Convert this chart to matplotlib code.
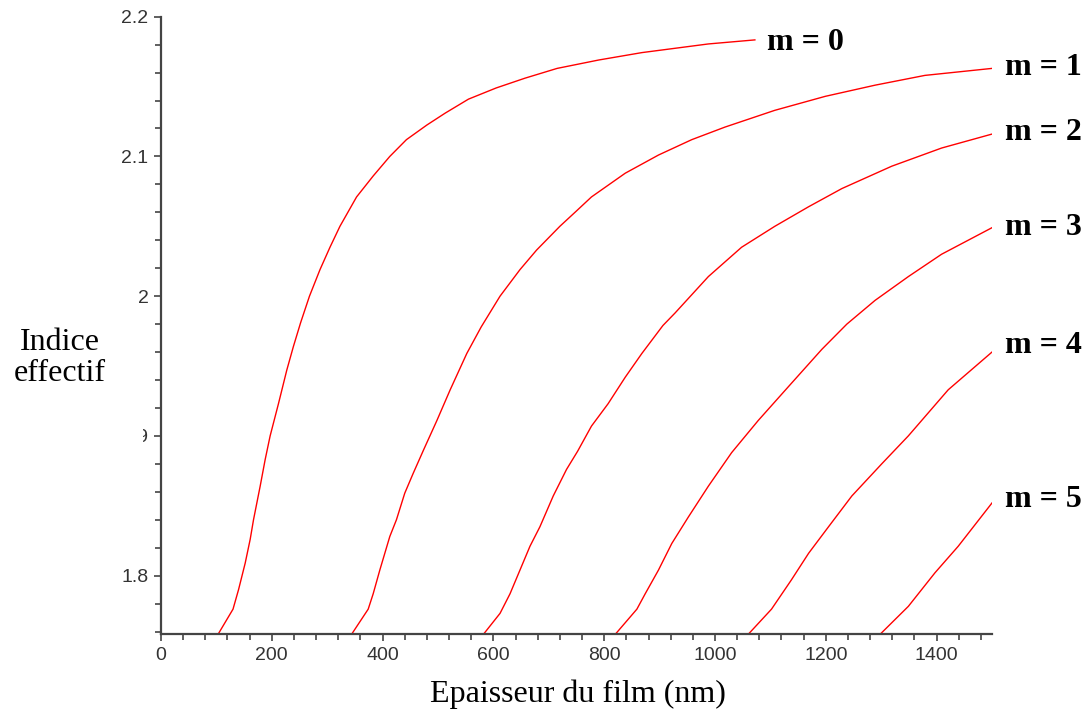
import numpy as np
import matplotlib
matplotlib.use('Agg')
import matplotlib.pyplot as plt
from matplotlib.ticker import MultipleLocator, FormatStrFormatter
from matplotlib.patches import Rectangle

plt.rcParams['font.family'] = 'Liberation Sans'
plt.rcParams['xtick.labelsize'] = 14
plt.rcParams['ytick.labelsize'] = 14

# Epaisseur du film (nm) / indice effectif
thick_m0 = [103, 130, 140, 152, 161, 167, 179, 188, 197, 212, 227, 239, 252, 268, 287, 305, 323,
            353, 383, 413, 443, 480, 513, 555, 605, 657, 715, 790, 868, 928, 988, 1072]
n_m0 = [1.758, 1.776, 1.790, 1.809, 1.826, 1.840, 1.864, 1.883, 1.900, 1.923, 1.947, 1.964, 1.981,
        2.000, 2.019, 2.035, 2.050, 2.071, 2.086, 2.100, 2.112, 2.1225, 2.131, 2.141, 2.149, 2.156,
        2.163, 2.169, 2.1743, 2.1774, 2.1805, 2.1834]

thick_m1 = [344, 374, 383, 395, 413, 425, 440, 455, 474, 498, 522, 552, 578, 612, 648, 678, 720,
            750, 777, 838, 898, 958, 1018, 1108, 1199, 1289, 1379, 1500]
n_m1 = [1.758, 1.776, 1.787, 1.804, 1.828, 1.840, 1.859, 1.873, 1.890, 1.911, 1.933, 1.959, 1.978,
        2.000, 2.019, 2.033, 2.050, 2.061, 2.071, 2.088, 2.101, 2.112, 2.121, 2.133, 2.143, 2.151,
        2.158, 2.163]

thick_m2 = [582, 612, 630, 648, 666, 684, 708, 732, 752, 777, 807, 838, 868, 906, 928, 988, 1048,
            1108, 1169, 1229, 1319, 1409, 1500]
n_m2 = [1.758, 1.773, 1.787, 1.804, 1.821, 1.835, 1.857, 1.876, 1.889, 1.907, 1.923, 1.942, 1.959,
        1.979, 1.988, 2.014, 2.035, 2.050, 2.064, 2.077, 2.093, 2.106, 2.116]

thick_m3 = [820, 859, 874, 898, 922, 952, 988, 1030, 1078, 1132, 1193, 1238, 1289, 1349, 1409, 1500]
n_m3 = [1.758, 1.776, 1.787, 1.804, 1.823, 1.842, 1.864, 1.888, 1.911, 1.935, 1.962, 1.980, 1.997,
        2.014, 2.030, 2.049]

thick_m4 = [1060, 1102, 1138, 1169, 1205, 1247, 1301, 1349, 1421, 1500]
n_m4 = [1.758, 1.776, 1.797, 1.816, 1.835, 1.857, 1.880, 1.900, 1.933, 1.960]

thick_m5 = [1298, 1349, 1397, 1439, 1500]
n_m5 = [1.758, 1.778, 1.802, 1.821, 1.852]

labels = ['m = 0', 'm = 1', 'm = 2', 'm = 3', 'm = 4', 'm = 5']
curves = [(thick_m0, n_m0), (thick_m1, n_m1), (thick_m2, n_m2),
          (thick_m3, n_m3), (thick_m4, n_m4), (thick_m5, n_m5)]

# where the mode labels sit (data coords)
label_x = [1093, 1523, 1523, 1523, 1523, 1523]
label_y = [2.176, 2.158, 2.112, 2.044, 1.959, 1.849]

fig = plt.figure(figsize=(10.88, 7.10), dpi=100)
ax = fig.add_axes([161 / 1088, 1 - 634.3 / 710, (992 - 161) / 1088, (634.3 - 16.7) / 710])

for (x, y), lab, lx, ly in zip(curves, labels, label_x, label_y):
    ax.plot(x, y, color='#ff0000', lw=1.0)
    ax.text(lx, ly, lab, fontsize=23, fontweight='bold', family='Liberation Serif',
            ha='left', va='baseline', clip_on=False)

ax.set_xlim(0, 1500)
ax.set_ylim(1.758, 2.2)

# axes look
for s in ['top', 'right']:
    ax.spines[s].set_visible(False)
for s in ['left', 'bottom']:
    ax.spines[s].set_color('#444444')
    ax.spines[s].set_linewidth(1.6)

ax.xaxis.set_major_locator(MultipleLocator(200))
ax.xaxis.set_minor_locator(MultipleLocator(40))
ax.yaxis.set_major_locator(MultipleLocator(0.1))
ax.yaxis.set_minor_locator(MultipleLocator(0.02))
ax.yaxis.set_major_formatter(FormatStrFormatter('%g'))
ax.tick_params(which='major', length=5, width=1.2, color='#444444', pad=4,
               labelcolor='#333333')
ax.tick_params(which='minor', length=4, width=1.2, color='#444444')

# axis titles
fig.text(578 / 1088, 8 / 710, 'Epaisseur du film (nm)', fontsize=23,
         family='Liberation Serif', ha='center', va='baseline')
# text box of the y title hides part of the 1.9 label
fig.patches.append(Rectangle((0, 1 - 452 / 710), 143 / 1088, 140 / 710,
                             transform=fig.transFigure, facecolor='white',
                             edgecolor='none', zorder=5))
fig.text(60 / 1088, 1 - 358 / 710, 'Indice\neffectif', fontsize=23,
         family='Liberation Serif', ha='center', va='center', linespacing=1.05, zorder=6)

plt.savefig('out.png', dpi=100)
